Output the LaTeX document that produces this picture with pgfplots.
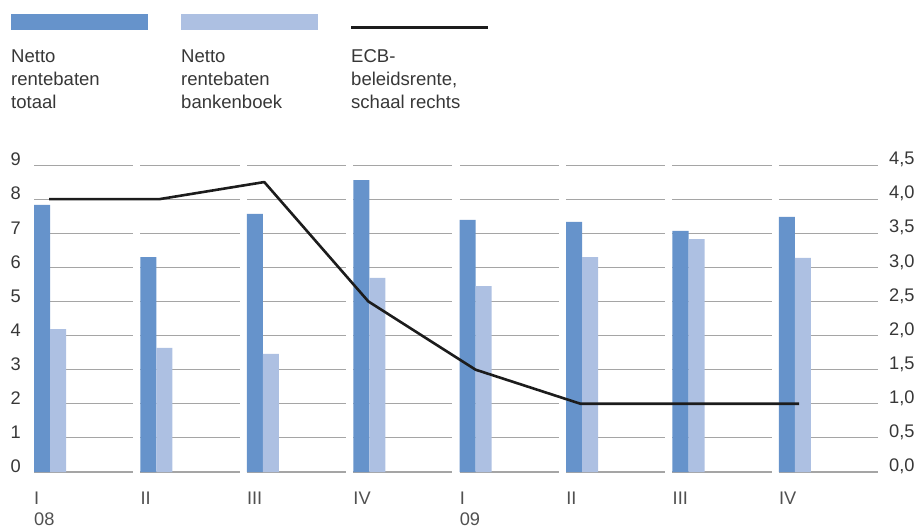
\documentclass[border=0pt]{standalone}
\usepackage{pgfplots}
\pgfplotsset{compat=1.18}
\usepackage{fontspec}
\setmainfont{Liberation Sans}
\definecolor{darkb}{RGB}{102,147,203}
\definecolor{lightb}{RGB}{173,192,226}
\definecolor{gridc}{RGB}{165,165,165}
\definecolor{txt}{RGB}{55,55,55}
\definecolor{xtc}{RGB}{80,80,80}
\definecolor{linec}{RGB}{28,28,28}
\begin{document}
\begin{tikzpicture}
\useasboundingbox (0,0) rectangle (918bp,528bp);
\pgfplotsset{base/.style={scale only axis, width=844bp, height=307bp,
  at={(34bp,56bp)}, anchor=south west, xmin=0, xmax=7.9313, ymin=0, ymax=9,
  clip=false, axis line style={draw=none}, tick style={draw=none},
  major tick length=0pt, /pgf/number format/assume math mode=true,
  tick label style={font=\fontsize{18.3}{21}\selectfont, text=txt}}}
% gridlines
\begin{axis}[base, xtick=\empty, ytick={1,...,9}, yticklabels={},
  ymajorgrids, grid style={gridc, line width=1bp},
  extra y ticks={0}, extra y tick labels={}, extra y tick style={grid style={gridc, line width=2bp}}]
\fill[white] (axis cs:0.9313,-0.3) rectangle (axis cs:1,9.3);
\fill[white] (axis cs:1.9313,-0.3) rectangle (axis cs:2,9.3);
\fill[white] (axis cs:2.9313,-0.3) rectangle (axis cs:3,9.3);
\fill[white] (axis cs:3.9313,-0.3) rectangle (axis cs:4,9.3);
\fill[white] (axis cs:4.9313,-0.3) rectangle (axis cs:5,9.3);
\fill[white] (axis cs:5.9313,-0.3) rectangle (axis cs:6,9.3);
\fill[white] (axis cs:6.9313,-0.3) rectangle (axis cs:7,9.3);
\end{axis}
% bars
\begin{axis}[base, ybar, bar width=0.1505, bar shift=0pt,
  xtick={0,...,7}, xticklabels={{I\\08},II,III,IV,{I\\09},II,III,IV},
  xticklabel style={anchor=north west, align=left, inner xsep=0pt, inner ysep=0pt, yshift=-20bp, text=xtc},
  ytick={0,...,9},
  yticklabel style={anchor=east, inner xsep=0pt, xshift=-13bp, yshift=5.5bp}]
\addplot[fill=darkb, draw=none] coordinates {(0.0753,7.83) (1.0753,6.30) (2.0753,7.57) (3.0753,8.56) (4.0753,7.39) (5.0753,7.33) (6.0753,7.07) (7.0753,7.48)};
\addplot[fill=lightb, draw=none] coordinates {(0.2258,4.19) (1.2258,3.64) (2.2258,3.46) (3.2258,5.69) (4.2258,5.45) (5.2258,6.30) (6.2258,6.83) (7.2258,6.28)};
\end{axis}
% line on right axis
\begin{axis}[base, ymax=4.5, xtick=\empty, yticklabel pos=right,
  ytick={0,0.5,1,1.5,2,2.5,3,3.5,4,4.5},
  yticklabel style={anchor=west, inner xsep=0pt, xshift=11bp, yshift=5.5bp,
    /pgf/number format/.cd, fixed, fixed zerofill, precision=1, use comma}]
\addplot[linec, line width=2.6bp, line join=round] coordinates {(0.141,4.0) (1.18,4.0) (2.164,4.25) (3.142,2.5) (4.149,1.5) (5.136,1.0) (6.15,1.0) (7.19,1.0)};
\end{axis}
% legend
\fill[darkb] (11bp,498bp) rectangle (148bp,514bp);
\fill[lightb] (181bp,498bp) rectangle (318bp,514bp);
\draw[linec, line width=3bp] (351bp,500.7bp) -- (488bp,500.7bp);
\begin{scope}[every node/.style={anchor=base west, inner sep=0pt, font=\fontsize{18.6}{22}\selectfont, text=txt}]
\node at (11bp,465bp) {Netto};
\node at (11bp,442bp) {rentebaten};
\node at (11bp,419bp) {totaal};
\node at (181bp,465bp) {Netto};
\node at (181bp,442bp) {rentebaten};
\node at (181bp,419bp) {bankenboek};
\node at (351bp,465bp) {ECB-};
\node at (351bp,442bp) {beleidsrente,};
\node at (351bp,419bp) {schaal rechts};
\end{scope}
\end{tikzpicture}
\end{document}
